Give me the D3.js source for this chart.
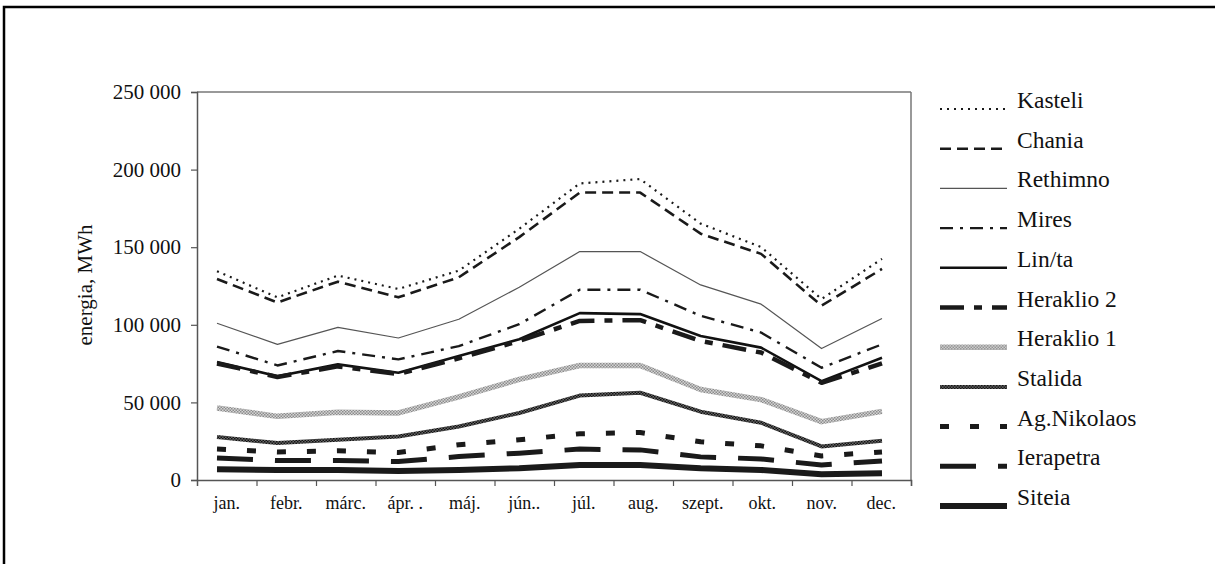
<!DOCTYPE html>
<html>
<head>
<meta charset="utf-8">
<script src="https://cdn.jsdelivr.net/npm/d3@7"></script>
<style>
  html, body { margin: 0; padding: 0; background: #fff; }
  svg { display: block; }
  text { font-family: "Liberation Serif", "Times New Roman", serif; fill: #111; }
</style>
</head>
<body>
<svg id="chart" width="1215" height="564" font-family="'Liberation Serif', 'Times New Roman', serif"></svg>
<script>
const months = ["jan.", "febr.", "márc.", "ápr. .", "máj.", "jún..", "júl.", "aug.", "szept.", "okt.", "nov.", "dec."];
const yTicks = [0, 50000, 100000, 150000, 200000, 250000];
const seriesNames = ["Kasteli", "Chania", "Rethimno", "Mires", "Lin/ta", "Heraklio 2", "Heraklio 1", "Stalida", "Ag.Nikolaos", "Ierapetra", "Siteia"];

const kasteli    = [134500, 117700, 131700, 123100, 134900, 161900, 191100, 193900, 165200, 150100, 116600, 142500];
const chania     = [129500, 114400, 127800, 117700, 130600, 156500, 185200, 185200, 158700, 145700, 112300, 136000];
const rethimno   = [101000, 87400, 98300, 91500, 103600, 124200, 147200, 147200, 125700, 113300, 84700, 104100];
const mires      = [86000, 73800, 83100, 77700, 86300, 100400, 122600, 122600, 105800, 95000, 72300, 87400];
const linta      = [76000, 66900, 74500, 69100, 79900, 90700, 107500, 106900, 92800, 85300, 63700, 78800];
const heraklio2  = [75100, 66400, 73200, 68300, 78400, 89600, 102500, 103000, 89600, 82100, 62600, 75100];
const heraklio1  = [46400, 41000, 43600, 43200, 53600, 64800, 73800, 73800, 58300, 51800, 37600, 44200];
const stalida    = [27700, 23800, 25900, 28000, 34500, 43200, 54400, 56200, 44000, 36900, 21600, 25300];
const agNikolaos = [19900, 18100, 18800, 17700, 22700, 25900, 29800, 30600, 24600, 22000, 15500, 18100];
const ierapetra  = [14100, 12500, 12500, 11900, 15100, 17300, 19900, 19400, 14900, 13600, 9700, 12300];
const siteia     = [6900, 6500, 6500, 5800, 6500, 7600, 9700, 9700, 7600, 6500, 3700, 4300];

const seriesValues = [kasteli, chania, rethimno, mires, linta, heraklio2, heraklio1, stalida, agNikolaos, ierapetra, siteia];

// styles (kept separate from data)
const styles = [
  {stroke: "#1a1a1a", width: 2.2, dash: "2,5"},
  {stroke: "#1a1a1a", width: 2.6, dash: "11,6"},
  {stroke: "#555", width: 1.2, dash: null},
  {stroke: "#1a1a1a", width: 2.4, dash: "13,7,3,7"},
  {stroke: "#111", width: 2.6, dash: null},
  {stroke: "#1a1a1a", width: 4.5, dash: "24,10,8,10"},
  {stroke: "url(#hatchLight)", width: 5.5, dash: null},
  {stroke: "url(#hatchDark)", width: 4, dash: null},
  {stroke: "#1a1a1a", width: 5, dash: "9,21"},
  {stroke: "#1a1a1a", width: 5, dash: "36,22"},
  {stroke: "#1a1a1a", width: 6, dash: null}
];

const FONT = "'Liberation Serif', 'Times New Roman', serif";
const svg = d3.select("#chart");

// patterns
const defs = svg.append("defs");
const pl = defs.append("pattern").attr("id", "hatchLight").attr("patternUnits", "userSpaceOnUse")
  .attr("width", 3).attr("height", 3);
pl.append("rect").attr("width", 3).attr("height", 3).attr("fill", "#d4d4d4");
pl.append("rect").attr("width", 1.5).attr("height", 1.5).attr("fill", "#8c8c8c");
pl.append("rect").attr("x", 1.5).attr("y", 1.5).attr("width", 1.5).attr("height", 1.5).attr("fill", "#8c8c8c");
const pd = defs.append("pattern").attr("id", "hatchDark").attr("patternUnits", "userSpaceOnUse")
  .attr("width", 3).attr("height", 3);
pd.append("rect").attr("width", 3).attr("height", 3).attr("fill", "#666");
pd.append("rect").attr("width", 1.5).attr("height", 1.5).attr("fill", "#111");
pd.append("rect").attr("x", 1.5).attr("y", 1.5).attr("width", 1.5).attr("height", 1.5).attr("fill", "#111");

// outer frame
svg.append("rect").attr("x", 4).attr("y", 7).attr("width", 1240).attr("height", 600)
  .attr("fill", "none").attr("stroke", "#000").attr("stroke-width", 2.5);

const plot = {left: 197, right: 911, top: 92, bottom: 480};

const y = d3.scaleLinear().domain([0, 250000]).range([plot.bottom, plot.top]);
const xPts = d3.scalePoint().domain(months).range([217, 882]);
const xBand = d3.scaleBand().domain(months).range([plot.left, plot.right]);
const xTick = d3.scaleLinear().domain([0, 12]).range([plot.left, plot.right]);

// plot frame top & right
svg.append("line").attr("x1", plot.left).attr("x2", plot.right).attr("y1", plot.top).attr("y2", plot.top)
  .attr("stroke", "#777").attr("stroke-width", 1.5);
svg.append("line").attr("x1", plot.right).attr("x2", plot.right).attr("y1", plot.top).attr("y2", plot.bottom)
  .attr("stroke", "#777").attr("stroke-width", 1.5);

// y axis
const yAxis = svg.append("g").attr("transform", `translate(${plot.left},0)`)
  .call(d3.axisLeft(y).tickValues(yTicks).tickSize(6).tickPadding(10)
    .tickFormat(d => d3.format(",")(d).replace(/,/g, " ")));
yAxis.attr("font-family", FONT);
yAxis.select(".domain").attr("stroke", "#555").attr("stroke-width", 1.5);
yAxis.selectAll(".tick line").attr("stroke", "#555").attr("stroke-width", 1.2);
yAxis.selectAll(".tick text").attr("font-size", 21).attr("fill", "#111");

// x axis ticks
const xAxis = svg.append("g").attr("transform", `translate(0,${plot.bottom})`)
  .call(d3.axisBottom(xTick).tickValues(d3.range(1, 13)).tickSize(6).tickFormat(""));
xAxis.select(".domain").attr("stroke", "#555").attr("stroke-width", 1.5);
xAxis.selectAll(".tick line").attr("stroke", "#555").attr("stroke-width", 1.2);

// x labels
svg.append("g").selectAll("text").data(months).join("text")
  .attr("x", d => xBand(d) + xBand.bandwidth() / 2)
  .attr("y", 509)
  .attr("text-anchor", "middle")
  .attr("font-size", 18)
  .text(d => d);

// y title
svg.append("text")
  .attr("transform", "translate(92,285) rotate(-90)")
  .attr("text-anchor", "middle")
  .attr("font-size", 21)
  .text("energia, MWh");

// lines
const line = d3.line().x((d, i) => xPts(months[i])).y(d => y(d));
svg.append("g").selectAll("path").data(seriesValues).join("path")
  .attr("d", d => line(d))
  .attr("fill", "none")
  .attr("stroke", (d, i) => styles[i].stroke)
  .attr("stroke-width", (d, i) => styles[i].width)
  .attr("stroke-dasharray", (d, i) => styles[i].dash)
  .attr("stroke-linejoin", "round");

// legend
const lg = svg.append("g");
const items = lg.selectAll("g").data(seriesNames).join("g")
  .attr("transform", (d, i) => `translate(0,${101 + i * 39.7})`);
items.append("line").attr("x1", 940).attr("x2", 1007).attr("y1", 8).attr("y2", 8)
  .attr("stroke", (d, i) => styles[i].stroke)
  .attr("stroke-width", (d, i) => styles[i].width)
  .attr("stroke-dasharray", (d, i) => styles[i].dash);
items.append("text").attr("x", 1017).attr("y", 7).attr("font-size", 23.5).text(d => d);
</script>
</body>
</html>
